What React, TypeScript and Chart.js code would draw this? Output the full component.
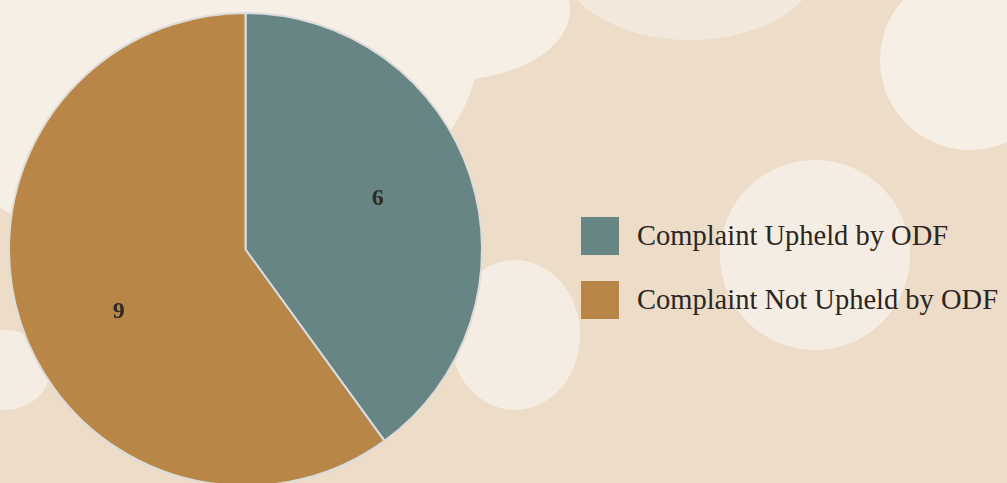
import React, { useEffect, useRef } from "react";
import { Chart, registerables } from "chart.js";

Chart.register(...registerables);

const categories = ["Complaint Upheld by ODF", "Complaint Not Upheld by ODF"];
const values = [6, 9];
const colors = ["#678584", "#b88748"];

const labelAngleOffsets = [-0.05, -0.145];

const labelPlugin = {
  id: "sliceLabels",
  afterDatasetsDraw(chart: any) {
    const ctx = chart.ctx;
    const meta = chart.getDatasetMeta(0);
    ctx.save();
    ctx.font = "bold 24px 'Liberation Serif', serif";
    ctx.fillStyle = "#2e2a26";
    ctx.textAlign = "center";
    ctx.textBaseline = "middle";
    meta.data.forEach((arc: any, i: number) => {
      const p = arc.getProps(["x", "y", "startAngle", "endAngle", "outerRadius"], true);
      const mid = (p.startAngle + p.endAngle) / 2 + labelAngleOffsets[i];
      const r = p.outerRadius * 0.598;
      ctx.fillText(String(values[i]), p.x + Math.cos(mid) * r, p.y + Math.sin(mid) * r);
    });
    ctx.restore();
  },
};

const blobs = [
  { left: -120, top: -170, width: 600, height: 420, bg: "#f6efe6" },
  { left: 330, top: -60, width: 240, height: 140, bg: "#f6efe6" },
  { left: 560, top: -120, width: 260, height: 160, bg: "#f2e8db" },
  { left: 880, top: -30, width: 180, height: 180, bg: "#f6efe6" },
  { left: 720, top: 160, width: 190, height: 190, bg: "#f5ede3" },
  { left: 450, top: 260, width: 130, height: 150, bg: "#f5ede3" },
  { left: -40, top: 330, width: 90, height: 80, bg: "#f5ede3" },
];

export default function App() {
  const ref = useRef<HTMLCanvasElement>(null);
  useEffect(() => {
    if (!ref.current) return;
    const chart = new Chart(ref.current, {
      type: "pie",
      data: {
        labels: categories,
        datasets: [
          {
            data: values,
            backgroundColor: colors,
            borderColor: "#dcdcdc",
            borderWidth: 2,
          },
        ],
      },
      options: {
        animation: false,
        responsive: false,
        maintainAspectRatio: false,
        layout: { padding: { top: 12, left: 0, right: 0, bottom: 0 } },
        plugins: { legend: { display: false }, tooltip: { enabled: false } },
      },
      plugins: [labelPlugin],
    });
    return () => chart.destroy();
  }, []);

  return (
    <div
      style={{
        position: "fixed",
        left: 0,
        top: 0,
        width: 1007,
        height: 483,
        overflow: "hidden",
        background: "#ecdcc8",
      }}
    >
      {blobs.map((b, i) => (
        <div
          key={i}
          style={{
            position: "absolute",
            left: b.left,
            top: b.top,
            width: b.width,
            height: b.height,
            background: b.bg,
            borderRadius: "50%",
          }}
        />
      ))}
      <canvas
        ref={ref}
        width={491}
        height={487}
        style={{ position: "absolute", left: 0, top: 0, width: 491, height: 487 }}
      />
      <div
        style={{
          position: "absolute",
          left: 581,
          top: 217,
          fontFamily: "'Liberation Serif', serif",
          fontSize: 28.5,
          color: "#2b2622",
        }}
      >
        {categories.map((c, i) => (
          <div key={c} style={{ display: "flex", alignItems: "center", height: 38, marginBottom: 26 }}>
            <div style={{ width: 38, height: 38, background: colors[i], marginRight: 18, flexShrink: 0 }} />
            <span style={{ whiteSpace: "nowrap", lineHeight: "38px" }}>{c}</span>
          </div>
        ))}
      </div>
    </div>
  );
}
